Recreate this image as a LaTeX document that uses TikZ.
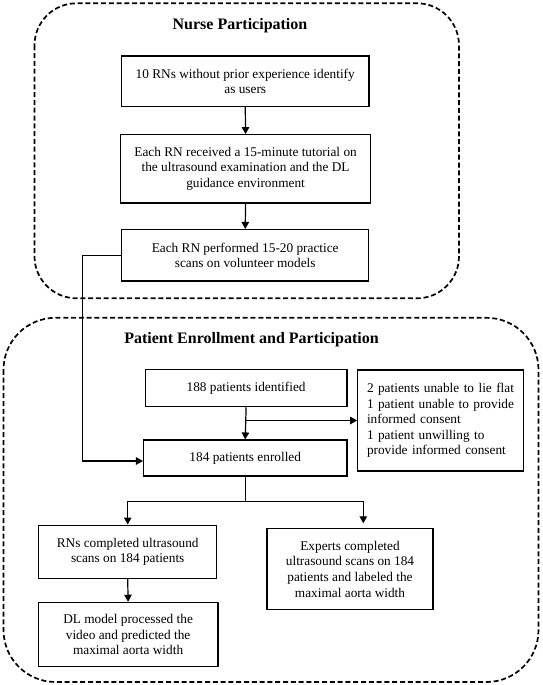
\documentclass[tikz,border=0pt]{standalone}
\usepackage{fontspec}
\setmainfont{Liberation Serif}
\usetikzlibrary{arrows.meta}
\begin{document}
\begin{tikzpicture}[x=1pt,y=-1pt,
  box/.style={draw=black, line width=1.1pt, inner sep=0pt, align=center,
    font=\fontsize{13.3}{15.6}\selectfont},
  grp/.style={draw=black, line width=1.7pt, dash pattern=on 5pt off 2.8pt},
  ttl/.style={font=\fontsize{16}{19}\selectfont\bfseries, inner sep=0pt},
  conn/.style={line width=1.2pt},
  arr/.style={conn, -{Triangle[length=7pt,width=7.5pt]}}]
\useasboundingbox (0,0) rectangle (543,685);
% group frames
\draw[grp, rounded corners=42pt] (34.5,3.3) rectangle (459,298.3);
\draw[grp, rounded corners=52pt] (3.5,317.8) rectangle (538.5,682);
\node[ttl] (t1) at (240,26) {Nurse Participation};
\node[ttl] (t2) at (251.5,340) {Patient Enrollment and Participation};
% boxes
\node[box, minimum width=247.5pt, minimum height=50.5pt] (a) at (245.25,81.25)
  {10 RNs without prior experience identify\\as users};
\node[box, minimum width=250.3pt, minimum height=68.3pt] (b) at (245.6,168.8)
  {Each RN received a 15-minute tutorial on\\the ultrasound examination and the DL\\guidance environment};
\node[box, minimum width=247pt, minimum height=51.5pt] (c) at (245.2,255.25)
  {Each RN performed 15-20 practice\\scans on volunteer models};
\node[box, minimum width=201.8pt, minimum height=37.4pt] (d) at (246.1,388)
  {188 patients identified};
\node[box, minimum width=203.5pt, minimum height=36pt] (e) at (245.25,458)
  {184 patients enrolled};
\node[box, align=left, text width=147pt, inner xsep=9.3pt, minimum height=101pt] (f) at (440.5,420.5)
  {2 patients unable to lie flat\\1 patient unable to provide\\informed consent\\1 patient unwilling to\\provide informed consent};
\node[box, minimum width=177.6pt, minimum height=53.3pt] (g) at (127.7,551.7)
  {RNs completed ultrasound\\scans on 184 patients};
\node[box, minimum width=166pt, minimum height=81pt] (h) at (350,569.2)
  {Experts completed\\ultrasound scans on 184\\patients and labeled the\\maximal aorta width};
\node[box, minimum width=179.8pt, minimum height=64.4pt] (i) at (128.1,634.5)
  {DL model processed the\\video and predicted the\\maximal aorta width};
% connectors
\draw[arr] (a.south) -- (b.north);
\draw[arr] (b.south) -- (c.north);
\draw[arr] (c.west) -- ++(-38.4,0) |- ([yshift=-3pt]e.west);
\draw[arr] (d.south) -- (e.north);
\draw[arr] (d.south |- f.west) -- (f.west);
\draw[conn] (e.south) -- ++(0,25) coordinate (sp);
\coordinate (hin) at (363.3,523.3);
\draw[arr] (sp) -| (g.north);
\draw[arr] (sp) -| (hin);
\draw[arr] (g.south) -- (i.north);
\end{tikzpicture}
\end{document}
